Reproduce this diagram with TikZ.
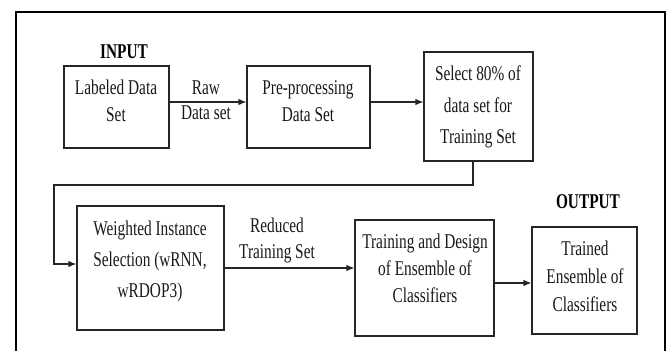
\documentclass[tikz,border=0pt]{standalone}
\usepackage{fontspec}
\setmainfont{Liberation Serif}[FakeStretch=0.73]
\usetikzlibrary{arrows.meta}
\begin{document}
\begin{tikzpicture}[x=1pt,y=-1pt,
  box/.style={draw=black!85,line width=1.1pt,inner sep=0pt},
  txt/.style={align=center,inner sep=0pt,text=black!90},
  conn/.style={line width=1.2pt,draw=black!85},
  arr/.style={conn,-{Latex[length=8pt,width=6.5pt]}},
  heading/.style={inner sep=0pt,font=\fontsize{21}{24}\selectfont\bfseries}]
\useasboundingbox (0,0) rectangle (668,351);
% frame
\draw[line width=1.8pt] (16,351) -- (16,12) -- (665,12) -- (665,351);
% boxes
\node[box,minimum width=105pt,minimum height=82pt] (lab) at (116.5,107) {};
\node[box,minimum width=123pt,minimum height=82pt] (pre) at (308.5,107) {};
\node[box,minimum width=109pt,minimum height=109pt] (sel) at (478.5,106.5) {};
\node[box,minimum width=147pt,minimum height=124pt] (wis) at (150.5,268) {};
\node[box,minimum width=139pt,minimum height=116pt] (tde) at (424.5,278) {};
\node[box,minimum width=105pt,minimum height=107pt] (tec) at (584.5,280.5) {};
% texts
\node[heading] (inp) at (124,52) {INPUT};
\node[heading] (outp) at (588,202) {OUTPUT};
\node[txt,font=\fontsize{21}{26.5}\selectfont] (labt) at (116,101) {Labeled Data\\Set};
\node[txt,font=\fontsize{21}{26.5}\selectfont] (pret) at (308,101) {Pre-processing\\Data Set};
\node[txt,font=\fontsize{21}{31.5}\selectfont] (selt) at (478,107) {Select 80\% of\\data set for\\Training Set};
\node[txt,font=\fontsize{21}{31}\selectfont] (wist) at (150,261) {Weighted Instance\\Selection (wRNN,\\wRDOP3)};
\node[txt,font=\fontsize{21}{27}\selectfont] (tdet) at (425,268) {Training and Design\\of Ensemble of\\Classifiers};
\node[txt,font=\fontsize{21}{28}\selectfont] (tect) at (585,276) {Trained\\Ensemble of\\Classifiers};
\node[txt,font=\fontsize{21}{25}\selectfont] (raw) at (206,100) {Raw\\Data set};
\node[txt,font=\fontsize{21}{26}\selectfont] (red) at (277,240) {Reduced\\Training Set};
% connector helpers
\coordinate (y1) at (0,102);
\coordinate (y3) at (0,268);
\coordinate (y4) at (0,283);
\coordinate (c1) at (473,185);
\coordinate (c2) at (54,185);
\coordinate (c3) at (54,264);
% connectors
\draw[arr] (lab.east |- y1) -- (pre.west |- y1);
\draw[arr] (pre.east |- y1) -- (sel.west |- y1);
\draw[arr] (sel.south -| c1) -- (c1) -- (c2) -- (c3) -- (wis.west |- c3);
\draw[arr] (wis.east |- y3) -- (tde.west |- y3);
\draw[arr] (tde.east |- y4) -- (tec.west |- y4);
\end{tikzpicture}
\end{document}
